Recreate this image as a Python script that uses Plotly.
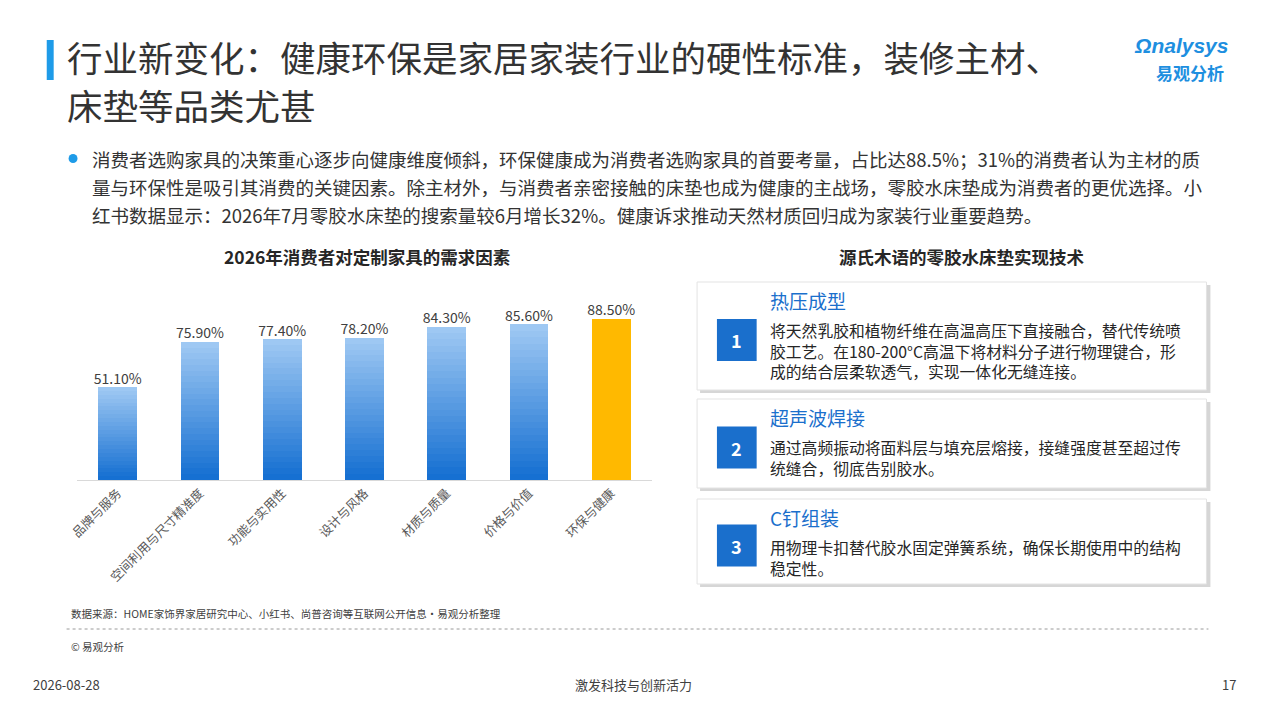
import plotly.graph_objects as go

W, H = 1269, 714

categories = ['品牌与服务', '空间利用与尺寸精准度', '功能与实用性', '设计与风格',
              '材质与质量', '价格与价值', '环保与健康']
values = [51.1, 75.9, 77.4, 78.2, 84.3, 85.6, 88.5]
value_labels = ['51.10%', '75.90%', '77.40%', '78.20%', '84.30%', '85.60%', '88.50%']

tech_titles = ['热压成型', '超声波焊接', 'C钉组装']
tech_texts = [
    '将天然乳胶和植物纤维在高温高压下直接融合，替代传统喷<br>胶工艺。在180-200°C高温下将材料分子进行物理键合，形<br>成的结合层柔软透气，实现一体化无缝连接。',
    '通过高频振动将面料层与填充层熔接，接缝强度甚至超过传<br>统缝合，彻底告别胶水。',
    '用物理卡扣替代胶水固定弹簧系统，确保长期使用中的结构<br>稳定性。',
]
box_tops = [282, 399, 499]
box_bottoms = [390, 488, 584]

FONT = 'Noto Sans CJK SC'


def px(x):
    return (x - 4) / W


def py(y):
    return 1 - y / H


fig = go.Figure()

# gradient bars built from stacked slices
N = 24
top_c = (158, 200, 243)
bot_c = (22, 112, 210)
for k in range(N):
    t = k / (N - 1)
    c = tuple(int(bot_c[i] + (top_c[i] - bot_c[i]) * t) for i in range(3))
    cols = ['rgb(%d,%d,%d)' % c] * 6 + ['#ffb900']
    fig.add_trace(go.Bar(x=categories, y=[v / N for v in values],
                         marker=dict(color=cols, line=dict(width=0)),
                         width=0.47, hoverinfo='skip', showlegend=False))

fig.add_trace(go.Scatter(x=categories, y=values, mode='text', text=value_labels,
                         textposition='top center',
                         textfont=dict(size=14, color='#404040', family=FONT),
                         showlegend=False, hoverinfo='skip'))

fig.update_layout(
    width=W, height=H, margin=dict(l=0, r=0, t=0, b=0),
    paper_bgcolor='white', plot_bgcolor='white', barmode='stack', bargap=0.5,
    xaxis=dict(domain=[px(72), px(652)], showline=True, linecolor='#d9d9d9',
               linewidth=1, tickangle=-45, ticks='',
               tickfont=dict(size=12.5, color='#595959', family=FONT)),
    yaxis=dict(domain=[py(480), py(298)], range=[0, 100], visible=False),
    font=dict(family=FONT),
)

shapes = []
ann = []

# title
shapes.append(dict(type='rect', xref='paper', yref='paper', x0=px(42), x1=px(49),
                   y0=py(80), y1=py(40), fillcolor='#1e9be8', line_width=0))
ann.append(dict(x=px(60), y=py(57), text='行业新变化：健康环保是家居家装行业的硬性标准，装修主材、',
                font=dict(size=35.5, color='#333333')))
ann.append(dict(x=px(60), y=py(104), text='床垫等品类尤甚', font=dict(size=35.5, color='#333333')))
ann.append(dict(x=px(1234), y=py(46), text='<i><b>Ωnalysys</b></i>', xanchor='right',
                font=dict(size=21, color='#1e8fe0', family='Liberation Sans')))
ann.append(dict(x=px(1230), y=py(73), text='<b>易观分析</b>', xanchor='right',
                font=dict(size=17, color='#1e8fe0')))

# bullet paragraph
shapes.append(dict(type='circle', xref='paper', yref='paper', x0=px(64), x1=px(73),
                   y0=py(163), y1=py(154), fillcolor='#1e9be8', line_width=0))
lines = ['消费者选购家具的决策重心逐步向健康维度倾斜，环保健康成为消费者选购家具的首要考量，占比达88.5%；31%的消费者认为主材的质',
         '量与环保性是吸引其消费的关键因素。除主材外，与消费者亲密接触的床垫也成为健康的主战场，零胶水床垫成为消费者的更优选择。小',
         '红书数据显示：2026年7月零胶水床垫的搜索量较6月增长32%。健康诉求推动天然材质回归成为家装行业重要趋势。']
for i, ln in enumerate(lines):
    ann.append(dict(x=px(86), y=py(159 + 28 * i), text=ln, font=dict(size=18.5, color='#333333')))

# sub titles
ann.append(dict(x=px(365), y=py(256), text='<b>2026年消费者对定制家具的需求因素</b>', xanchor='center',
                font=dict(size=17.5, color='#262626')))
ann.append(dict(x=px(963), y=py(256), text='<b>源氏木语的零胶水床垫实现技术</b>', xanchor='center',
                font=dict(size=17.5, color='#262626')))

# right panel boxes
for i in range(3):
    t0, t1 = box_tops[i], box_bottoms[i]
    shapes.append(dict(type='rect', xref='paper', yref='paper', x0=px(700), x1=px(1214),
                       y0=py(t1 + 3), y1=py(t0 + 3), fillcolor='#d6d6d6', line_width=0, layer='below'))
    shapes.append(dict(type='rect', xref='paper', yref='paper', x0=px(697), x1=px(1210),
                       y0=py(t1), y1=py(t0), fillcolor='white', line=dict(color='#e3e3e3', width=1),
                       layer='below'))
    mid = (t0 + t1) / 2 + 4
    shapes.append(dict(type='rect', xref='paper', yref='paper', x0=px(717), x1=px(757),
                       y0=py(mid + 21), y1=py(mid - 21), fillcolor='#1a6fcc', line_width=0))
    ann.append(dict(x=px(737), y=py(mid), text='<b>%d</b>' % (i + 1), xanchor='center',
                    font=dict(size=18, color='white')))
    ann.append(dict(x=px(768), y=py(t0 + 18), text=tech_titles[i], font=dict(size=19, color='#1a6fcc')))
    ann.append(dict(x=px(768), y=py(t0 + 35), text=tech_texts[i], yanchor='top', align='left',
                    font=dict(size=15.8, color='#262626')))

# footer
ann.append(dict(x=px(64), y=py(613), text='数据来源：HOME家饰界家居研究中心、小红书、尚普咨询等互联网公开信息·易观分析整理',
                font=dict(size=10.5, color='#404040')))
shapes.append(dict(type='line', xref='paper', yref='paper', x0=px(62), x1=px(1212),
                   y0=py(629), y1=py(629), line=dict(color='#9a9a9a', width=1, dash='dot')))
ann.append(dict(x=px(64), y=py(646), text='© 易观分析', font=dict(size=10.5, color='#404040')))
ann.append(dict(x=px(26), y=py(684), text='2026-08-28', font=dict(size=13, color='#404040')))
ann.append(dict(x=px(633), y=py(684), text='激发科技与创新活力', xanchor='center',
                font=dict(size=13, color='#404040')))
ann.append(dict(x=px(1242), y=py(684), text='17', xanchor='right', font=dict(size=13, color='#404040')))

for a in ann:
    a.setdefault('xref', 'paper')
    a.setdefault('yref', 'paper')
    a.setdefault('xanchor', 'left')
    a.setdefault('yanchor', 'middle')
    a['showarrow'] = False

fig.update_layout(shapes=shapes, annotations=ann)
fig.write_html('out.html', config={'displayModeBar': False},
               post_script="document.body.style.margin='0';")
